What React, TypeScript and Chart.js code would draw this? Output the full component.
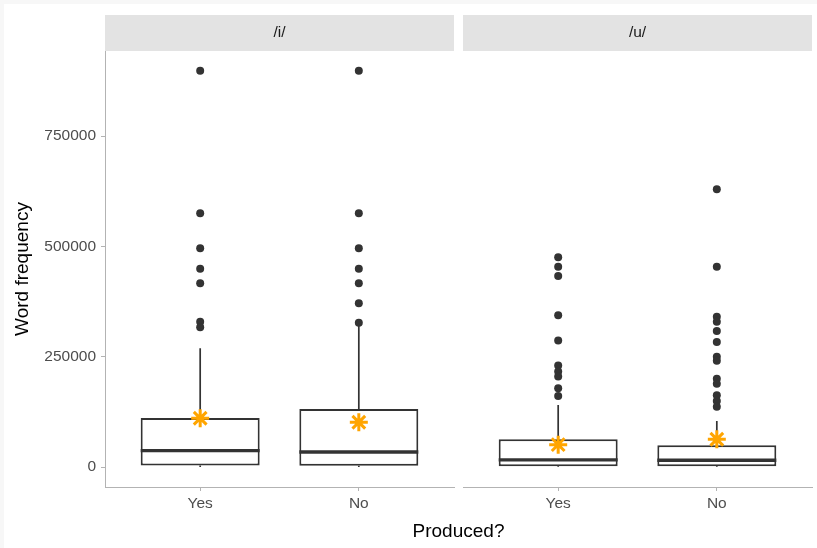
import React, { useEffect, useRef } from 'react';
import { Chart, registerables } from 'chart.js';

Chart.register(...registerables);

const FONT = '"Liberation Sans", Arial, Helvetica, sans-serif';
Chart.defaults.font.family = FONT;

// ---- data ----
const categories = ['Yes', 'No'];
const panelLabels = ['/i/', '/u/'];

const iLower = [500, 500];
const iQ1 = [3600, 3000];
const iMedian = [37500, 34500];
const iQ3 = [111400, 132000];
const iUpper = [269400, 320000];
const iMean = [110700, 101700];
const iOutliersYes = [898000, 575000, 495800, 449600, 416500, 329600, 316900];
const iOutliersNo = [898000, 575000, 495800, 449600, 416500, 371300, 327300];

const uLower = [300, 300];
const uQ1 = [2000, 2000];
const uMedian = [16500, 15800];
const uQ3 = [63300, 49700];
const uUpper = [141000, 104600];
const uMean = [51000, 63300];
const uOutliersYes = [475400, 454100, 433000, 344100, 286600, 230100, 216400, 205100, 178800, 161400];
const uOutliersNo = [629300, 454100, 340900, 329600, 308600, 283700, 250000, 241000, 200000, 189000, 163000, 150000, 137000];

const yTicks = [0, 250000, 500000, 750000];
const yMin = -44900;
const yMax = 942500;

type Stats = {
  lower: number[];
  q1: number[];
  median: number[];
  q3: number[];
  upper: number[];
  mean: number[];
  outliers: number[][];
};

const panels: Stats[] = [
  { lower: iLower, q1: iQ1, median: iMedian, q3: iQ3, upper: iUpper, mean: iMean, outliers: [iOutliersYes, iOutliersNo] },
  { lower: uLower, q1: uQ1, median: uMedian, q3: uQ3, upper: uUpper, mean: uMean, outliers: [uOutliersYes, uOutliersNo] },
];

const DARK = '#333333';
const AXIS = '#b3b3b3';

function Panel(props: { stats: Stats; label: string; showY: boolean; left: number; width: number; padLeft: number; padRight: number }) {
  const ref = useRef<HTMLCanvasElement | null>(null);
  useEffect(() => {
    const canvas = ref.current;
    if (!canvas) return;
    const s = props.stats;
    const BAR_INDEX = 2;

    const whiskerPlugin = {
      id: 'whiskers',
      beforeDatasetsDraw(chart: any) {
        const { ctx, scales } = chart;
        const x = scales.x, y = scales.y;
        ctx.save();
        ctx.strokeStyle = DARK;
        ctx.lineWidth = 1.7;
        s.q1.forEach((_, i) => {
          const cx = x.getPixelForValue(i + 1);
          ctx.beginPath();
          ctx.moveTo(cx, y.getPixelForValue(s.q3[i]));
          ctx.lineTo(cx, y.getPixelForValue(s.upper[i]));
          ctx.moveTo(cx, y.getPixelForValue(s.q1[i]));
          ctx.lineTo(cx, y.getPixelForValue(s.lower[i]));
          ctx.stroke();
        });
        ctx.restore();
      },
      afterDatasetsDraw(chart: any) {
        const { ctx, scales } = chart;
        const x = scales.x, y = scales.y;
        const meta = chart.getDatasetMeta(BAR_INDEX);
        ctx.save();
        ctx.strokeStyle = DARK;
        ctx.lineWidth = 3.4;
        s.median.forEach((m, i) => {
          const bar = meta.data[i] as any;
          const cx = x.getPixelForValue(i + 1);
          const half = bar.width / 2;
          const py = y.getPixelForValue(m);
          ctx.beginPath();
          ctx.moveTo(cx - half, py);
          ctx.lineTo(cx + half, py);
          ctx.stroke();
        });
        ctx.restore();
      },
    };

    const stripPlugin = {
      id: 'strip',
      afterDraw(chart: any) {
        const { ctx, chartArea } = chart;
        ctx.save();
        ctx.fillStyle = '#e3e3e3';
        ctx.fillRect(chartArea.left, 15, chartArea.right - chartArea.left, 36);
        ctx.fillStyle = '#1a1a1a';
        ctx.font = `15.5px ${FONT}`;
        ctx.textAlign = 'center';
        ctx.textBaseline = 'middle';
        ctx.fillText(props.label, (chartArea.left + chartArea.right) / 2, 33);
        ctx.restore();
      },
    };

    const outlierData: { x: number; y: number }[] = [];
    s.outliers.forEach((arr, i) => arr.forEach((v) => outlierData.push({ x: i + 1, y: v })));

    const chart = new Chart(canvas, {
      type: 'scatter',
      data: {
        datasets: [
          {
            type: 'scatter',
            data: s.mean.map((m, i) => ({ x: i + 1, y: m })),
            pointStyle: 'star',
            radius: 9,
            borderColor: '#FFA500',
            backgroundColor: '#FFA500',
            borderWidth: 3,
          } as any,
          {
            type: 'scatter',
            data: outlierData,
            pointStyle: 'circle',
            radius: 4,
            backgroundColor: DARK,
            borderWidth: 0,
          } as any,
          {
            type: 'bar',
            data: s.q1.map((q, i) => ({ x: i + 1, y: [q, s.q3[i]] })),
            backgroundColor: '#ffffff',
            borderColor: DARK,
            borderWidth: 2,
            borderSkipped: false,
            categoryPercentage: 1,
            barPercentage: 0.75,
          } as any,
        ],
      },
      options: {
        animation: false,
        responsive: false,
        devicePixelRatio: 1,
        events: [],
        layout: { autoPadding: false, padding: { left: props.padLeft, right: props.padRight, top: 51, bottom: 0 } },
        plugins: { legend: { display: false }, tooltip: { enabled: false } },
        scales: {
          x: {
            type: 'linear',
            min: 0.4,
            max: 2.6,
            offset: false,
            afterBuildTicks: (sc: any) => {
              sc.ticks = categories.map((_, i) => ({ value: i + 1 }));
            },
            afterFit: (sc: any) => {
              sc.height = 61;
              sc.paddingLeft = 0;
              sc.paddingRight = 0;
            },
            ticks: {
              callback: (_v: any, idx: number) => categories[idx],
              color: '#4d4d4d',
              font: { size: 15.5 },
              padding: 3,
              autoSkip: false,
              maxRotation: 0,
            },
            grid: { drawOnChartArea: false, drawTicks: true, tickLength: 4, tickColor: AXIS, offset: false },
            border: { display: true, color: AXIS, width: 1 },
          },
          y: {
            type: 'linear',
            display: props.showY,
            min: yMin,
            max: yMax,
            afterBuildTicks: (sc: any) => {
              sc.ticks = yTicks.map((v) => ({ value: v }));
            },
            afterFit: (sc: any) => {
              sc.width = props.showY ? 105 : 0;
              sc.paddingTop = 0;
              sc.paddingBottom = 0;
            },
            ticks: {
              callback: (v: any) => String(v),
              color: '#4d4d4d',
              font: { size: 15.5 },
              padding: 5,
            },
            grid: { drawOnChartArea: false, drawTicks: true, tickLength: 4, tickColor: AXIS },
            border: { display: true, color: AXIS, width: 1 },
            title: {
              display: true,
              text: 'Word frequency',
              color: '#000000',
              font: { size: 19 },
              padding: { top: 11, bottom: 0 },
            },
          },
        },
      } as any,
      plugins: [whiskerPlugin, stripPlugin],
    });
    return () => chart.destroy();
  }, []);
  return (
    <canvas
      ref={ref}
      width={props.width}
      height={548}
      style={{ position: 'absolute', left: props.left, top: 0, width: props.width, height: 548 }}
    />
  );
}

export default function App() {
  return (
    <div style={{ position: 'fixed', left: 0, top: 0, width: 817, height: 548, background: '#f7f7f7', overflow: 'hidden' }}>
      <div style={{ position: 'absolute', left: 4, top: 4, width: 813, height: 544, background: '#ffffff' }} />
      <Panel stats={panels[0]} label={panelLabels[0]} showY={true} left={0} width={458} padLeft={0} padRight={4} />
      <Panel stats={panels[1]} label={panelLabels[1]} showY={false} left={458} width={359} padLeft={5} padRight={5} />
      <div
        style={{
          position: 'absolute',
          left: 358.5,
          top: 521,
          width: 200,
          textAlign: 'center',
          fontFamily: FONT,
          fontSize: 19,
          lineHeight: '19px',
          color: '#000000',
        }}
      >
        Produced?
      </div>
    </div>
  );
}
